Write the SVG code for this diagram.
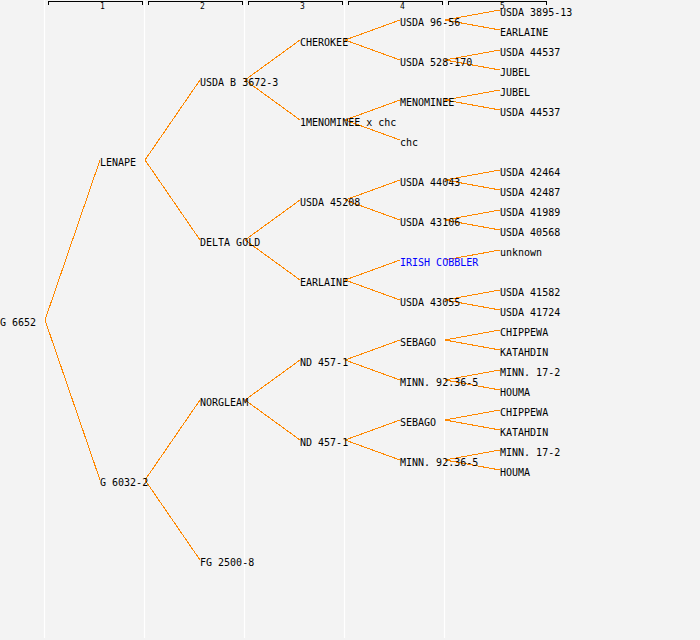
<svg xmlns="http://www.w3.org/2000/svg" width="700" height="640" viewBox="0 0 700 640">
<style>
.bg{fill:#f3f3f3}
.grid line{stroke:#ffffff;stroke-width:1.2}
.hdr path{fill:none;stroke:#000;stroke-width:1;shape-rendering:crispEdges}
.hdr text{font-family:"DejaVu Sans Mono","Liberation Mono",monospace;font-size:8px;fill:#000}
.links path{fill:none;stroke:#ff8800;stroke-width:1;shape-rendering:crispEdges}
.node text{font-family:"DejaVu Sans Mono","Liberation Mono",monospace;font-size:10px;fill:#000}
.node text.blue{fill:#0000ff}
</style>
<rect class="bg" x="0" y="0" width="700" height="640"/>
<g class="grid">
<line x1="44.5" y1="0" x2="44.5" y2="638"/>
<line x1="144.5" y1="0" x2="144.5" y2="638"/>
<line x1="244.5" y1="0" x2="244.5" y2="638"/>
<line x1="344.5" y1="0" x2="344.5" y2="638"/>
<line x1="444.5" y1="0" x2="444.5" y2="638"/>
</g>
<g class="hdr">
<path d="M48.5 4.5V1.5H142.5V4.5"/>
<path d="M148.5 4.5V1.5H242.5V4.5"/>
<path d="M248.5 4.5V1.5H342.5V4.5"/>
<path d="M348.5 4.5V1.5H442.5V4.5"/>
<path d="M448.5 4.5V1.5H546.5V4.5"/>
<text x="100" y="8.5">1</text>
<text x="200" y="8.5">2</text>
<text x="300" y="8.5">3</text>
<text x="400" y="8.5">4</text>
<text x="500" y="8.5">5</text>
</g>
<g class="links">
<path d="M100 160L45 320L100 480"/>
<path d="M200 80L145 160L200 240"/>
<path d="M200 400L145 480L200 560"/>
<path d="M300 40L245 80L300 120"/>
<path d="M300 200L245 240L300 280"/>
<path d="M300 360L245 400L300 440"/>
<path d="M400 20L345 40L400 60"/>
<path d="M400 100L345 120L400 140"/>
<path d="M400 180L345 200L400 220"/>
<path d="M400 260L345 280L400 300"/>
<path d="M400 340L345 360L400 380"/>
<path d="M400 420L345 440L400 460"/>
<path d="M500 10L445 20L500 30"/>
<path d="M500 50L445 60L500 70"/>
<path d="M500 90L445 100L500 110"/>
<path d="M500 170L445 180L500 190"/>
<path d="M500 210L445 220L500 230"/>
<path d="M445 260L500 250"/>
<path d="M500 290L445 300L500 310"/>
<path d="M500 330L445 340L500 350"/>
<path d="M500 370L445 380L500 390"/>
<path d="M500 410L445 420L500 430"/>
<path d="M500 450L445 460L500 470"/>
</g>
<g id="n-g6652" class="node"><text x="0" y="326">G 6652</text></g>
<g id="n-lenape" class="node"><text x="100" y="166">LENAPE</text></g>
<g id="n-g6032-2" class="node"><text x="100" y="486">G 6032-2</text></g>
<g id="n-usdab3672-3" class="node"><text x="200" y="86">USDA B 3672-3</text></g>
<g id="n-deltagold" class="node"><text x="200" y="246">DELTA GOLD</text></g>
<g id="n-norgleam" class="node"><text x="200" y="406">NORGLEAM</text></g>
<g id="n-fg2500-8" class="node"><text x="200" y="566">FG 2500-8</text></g>
<g id="n-cherokee" class="node"><text x="300" y="46">CHEROKEE</text></g>
<g id="n-1menominee" class="node"><text x="300" y="126">1MENOMINEE x chc</text></g>
<g id="n-usda45208" class="node"><text x="300" y="206">USDA 45208</text></g>
<g id="n-earlaine3" class="node"><text x="300" y="286">EARLAINE</text></g>
<g id="n-nd457-1a" class="node"><text x="300" y="366">ND 457-1</text></g>
<g id="n-nd457-1b" class="node"><text x="300" y="446">ND 457-1</text></g>
<g id="n-usda96-56" class="node"><text x="400" y="26">USDA 96-56</text></g>
<g id="n-usda528-170" class="node"><text x="400" y="66">USDA 528-170</text></g>
<g id="n-menominee" class="node"><text x="400" y="106">MENOMINEE</text></g>
<g id="n-chc" class="node"><text x="400" y="146">chc</text></g>
<g id="n-usda44043" class="node"><text x="400" y="186">USDA 44043</text></g>
<g id="n-usda43106" class="node"><text x="400" y="226">USDA 43106</text></g>
<g id="n-irishcobbler" class="node"><text class="blue" x="400" y="266">IRISH COBBLER</text></g>
<g id="n-usda43055" class="node"><text x="400" y="306">USDA 43055</text></g>
<g id="n-sebagoa" class="node"><text x="400" y="346">SEBAGO</text></g>
<g id="n-minn9236-5a" class="node"><text x="400" y="386">MINN. 92.36-5</text></g>
<g id="n-sebagob" class="node"><text x="400" y="426">SEBAGO</text></g>
<g id="n-minn9236-5b" class="node"><text x="400" y="466">MINN. 92.36-5</text></g>
<g id="n-usda3895-13" class="node"><text x="500" y="16">USDA 3895-13</text></g>
<g id="n-earlaine5" class="node"><text x="500" y="36">EARLAINE</text></g>
<g id="n-usda44537a" class="node"><text x="500" y="56">USDA 44537</text></g>
<g id="n-jubela" class="node"><text x="500" y="76">JUBEL</text></g>
<g id="n-jubelb" class="node"><text x="500" y="96">JUBEL</text></g>
<g id="n-usda44537b" class="node"><text x="500" y="116">USDA 44537</text></g>
<g id="n-usda42464" class="node"><text x="500" y="176">USDA 42464</text></g>
<g id="n-usda42487" class="node"><text x="500" y="196">USDA 42487</text></g>
<g id="n-usda41989" class="node"><text x="500" y="216">USDA 41989</text></g>
<g id="n-usda40568" class="node"><text x="500" y="236">USDA 40568</text></g>
<g id="n-unknown" class="node"><text x="500" y="256">unknown</text></g>
<g id="n-usda41582" class="node"><text x="500" y="296">USDA 41582</text></g>
<g id="n-usda41724" class="node"><text x="500" y="316">USDA 41724</text></g>
<g id="n-chippewaa" class="node"><text x="500" y="336">CHIPPEWA</text></g>
<g id="n-katahdina" class="node"><text x="500" y="356">KATAHDIN</text></g>
<g id="n-minn17-2a" class="node"><text x="500" y="376">MINN. 17-2</text></g>
<g id="n-houmaa" class="node"><text x="500" y="396">HOUMA</text></g>
<g id="n-chippewab" class="node"><text x="500" y="416">CHIPPEWA</text></g>
<g id="n-katahdinb" class="node"><text x="500" y="436">KATAHDIN</text></g>
<g id="n-minn17-2b" class="node"><text x="500" y="456">MINN. 17-2</text></g>
<g id="n-houmab" class="node"><text x="500" y="476">HOUMA</text></g>
</svg>
